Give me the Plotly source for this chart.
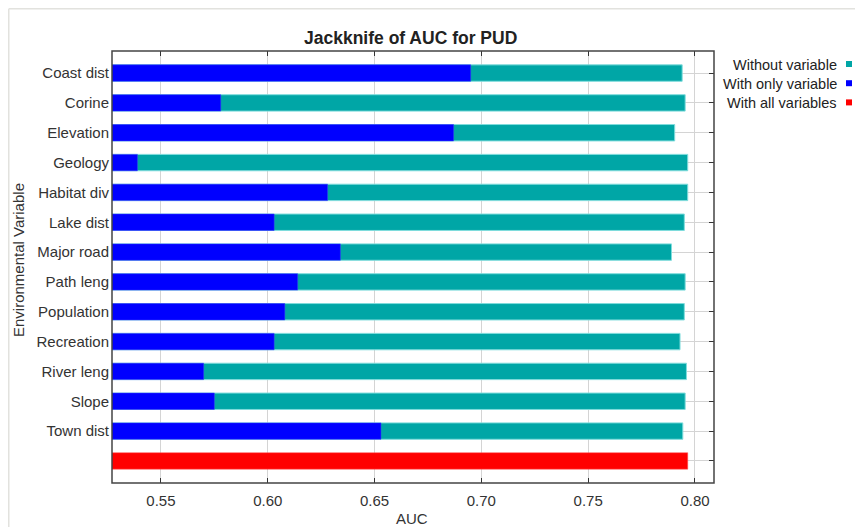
import plotly.graph_objects as go

variables = ["Coast dist", "Corine", "Elevation", "Geology", "Habitat div", "Lake dist",
             "Major road", "Path leng", "Population", "Recreation", "River leng", "Slope", "Town dist"]
without_var = [0.794, 0.7954, 0.7905, 0.7966, 0.7966, 0.795, 0.789, 0.7954, 0.795, 0.793, 0.796, 0.7954, 0.7943]
with_only = [0.695, 0.578, 0.687, 0.539, 0.628, 0.603, 0.634, 0.614, 0.608, 0.603, 0.570, 0.575, 0.653]
all_label = " "
all_vars = 0.7966

x_ticks = [0.55, 0.60, 0.65, 0.70, 0.75, 0.80]
x_tick_text = ["0.55", "0.60", "0.65", "0.70", "0.75", "0.80"]

cats = variables + [all_label]
TEAL = "#00A6A6"
BLUE = "#0000FF"
RED = "#FF0000"
FONT = "Liberation Sans, Arial, sans-serif"
TXT = "#333333"

W, H = 863, 527
L, R, T, B = 104, 157, 43, 52
pw, ph = W - L - R, H - T - B


def px(x):
    return (x - L) / pw


def py(y):
    return 1 - (y - T) / ph


fig = go.Figure()
fig.add_trace(go.Bar(y=variables, x=without_var, orientation="h", width=0.55,
                     marker=dict(color=TEAL, line=dict(color="#7fdcdc", width=1)),
                     name="Without variable", showlegend=False))
fig.add_trace(go.Bar(y=variables, x=with_only, orientation="h", width=0.55,
                     marker=dict(color=BLUE, line=dict(color="#3a3aff", width=0.5)),
                     name="With only variable", showlegend=False))
fig.add_trace(go.Bar(y=[all_label], x=[all_vars], orientation="h", width=0.55,
                     marker=dict(color=RED, line=dict(color="#ff5050", width=0.5)),
                     name="With all variables", showlegend=False))

fig.update_layout(
    width=W, height=H,
    margin=dict(l=L, r=R, t=T, b=B),
    paper_bgcolor="white", plot_bgcolor="white",
    barmode="overlay",
    font=dict(family=FONT, size=15, color=TXT),
    xaxis=dict(range=[0.5271, 0.8089], tickvals=x_ticks, ticktext=x_tick_text,
               ticks="inside", ticklen=5, tickcolor=TXT, mirror="ticks",
               showline=False, showgrid=True, gridcolor="#d4d4d4", gridwidth=1,
               zeroline=False, tickfont=dict(size=15, color=TXT),
               ticklabelstandoff=7, automargin=False),
    yaxis=dict(type="category", categoryorder="array", categoryarray=cats,
               range=[13.74, -0.74], ticks="inside", ticklen=5, tickcolor=TXT,
               mirror="ticks", showline=False, showgrid=True, gridcolor="#d4d4d4",
               layer="below traces", tickfont=dict(size=15, color=TXT),
               ticklabelstandoff=2, automargin=False),
)

# title
fig.add_annotation(xref="paper", yref="paper", x=px(402), y=py(30), xanchor="center",
                   yanchor="middle", showarrow=False, text="<b>Jackknife of AUC for PUD</b>",
                   font=dict(family=FONT, size=17.5, color="#222222"))
# axis titles
fig.add_annotation(xref="paper", yref="paper", x=px(404), y=py(510), xanchor="center",
                   yanchor="middle", showarrow=False, text="AUC",
                   font=dict(family=FONT, size=15, color=TXT))
fig.add_annotation(xref="paper", yref="paper", x=px(10), y=py(252), xanchor="center",
                   yanchor="middle", showarrow=False, text="Environmental Variable",
                   textangle=-90, font=dict(family=FONT, size=15, color=TXT))

# plot frame
fig.add_shape(type="rect", xref="paper", yref="paper", x0=0, y0=0, x1=1, y1=1,
              line=dict(color="#444444", width=1.5), layer="above")

# outer light border of the picture (left and top)
fig.add_shape(type="line", xref="paper", yref="paper", x0=px(0.75), x1=px(0.75), y0=py(H + 5), y1=py(0.75),
              line=dict(color="#e2e2de", width=1.5))
fig.add_shape(type="line", xref="paper", yref="paper", x0=px(0.75), x1=px(W + 5), y0=py(0.75), y1=py(0.75),
              line=dict(color="#e2e2de", width=1.5))

# custom legend (text with square on the right)
legend_items = [("Without variable", TEAL), ("With only variable", BLUE), ("With all variables", RED)]
for i, (lab, col) in enumerate(legend_items):
    ypix = 57 + i * 19.2
    fig.add_annotation(xref="paper", yref="paper", x=px(831), y=py(ypix),
                       xanchor="right", yanchor="middle", showarrow=False,
                       text=lab, font=dict(family=FONT, size=14.5, color="#222222"))
    fig.add_shape(type="rect", xref="paper", yref="paper",
                  x0=px(838), x1=px(844), y0=py(ypix - 4), y1=py(ypix + 2),
                  fillcolor=col, line=dict(width=0))

fig.write_html("out.html")
